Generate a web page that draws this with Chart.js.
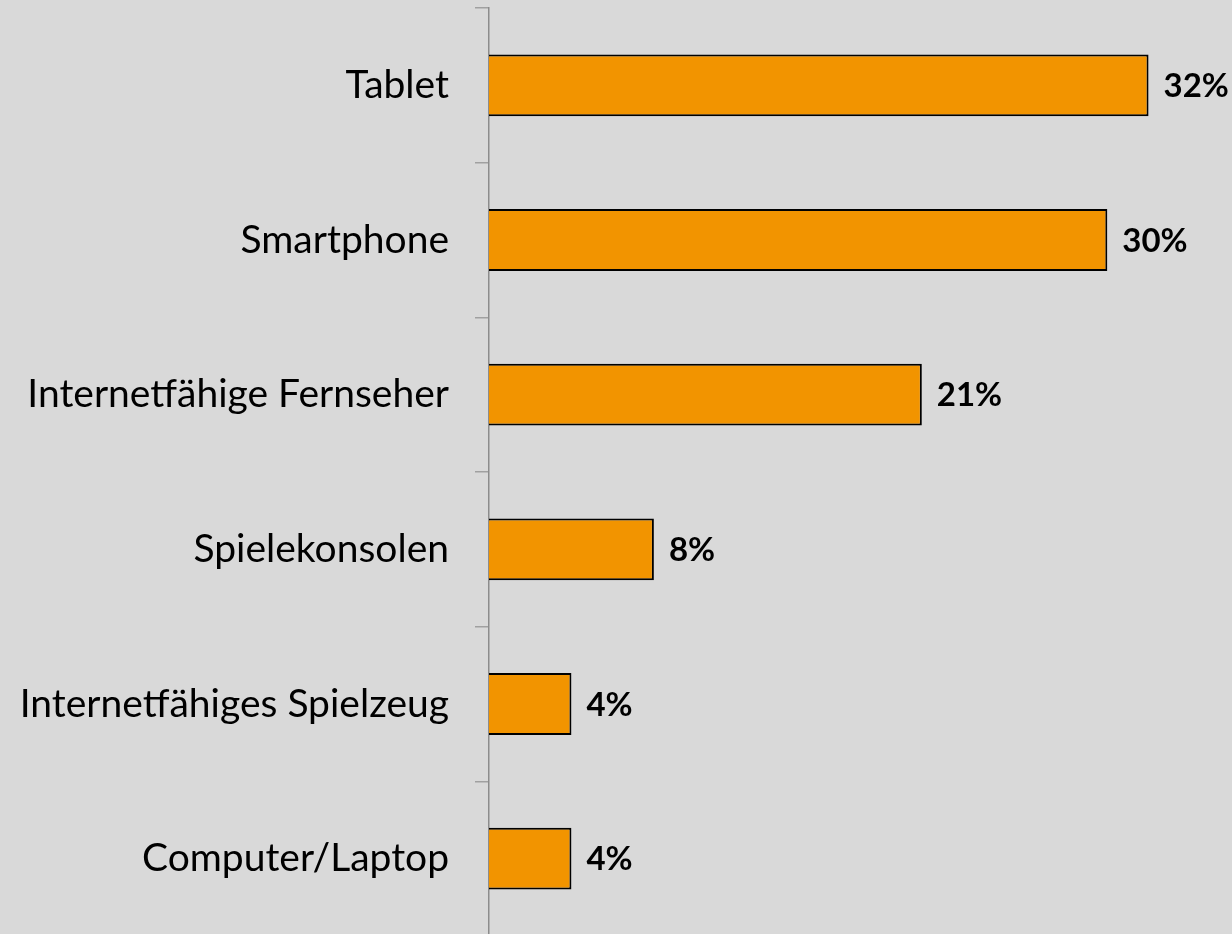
<!DOCTYPE html>
<html>
<head>
<meta charset="utf-8">
<script src="https://cdn.jsdelivr.net/npm/chart.js@4"></script>
<style>
    html, body { margin: 0; padding: 0; background: #d9d9d9; overflow: hidden; }
    #wrap { position: relative; width: 1232px; height: 942px; }
</style>
</head>
<body>
<div id="wrap"><canvas id="deviceChart"></canvas></div>
<script>
const categories = ['Tablet', 'Smartphone', 'Internetfähige Fernseher', 'Spielekonsolen', 'Internetfähiges Spielzeug', 'Computer/Laptop'];
const shares = [32, 30, 21, 8, 4, 4];

// Draw the "32%" style labels to the right of each bar
const valueLabels = {
    id: 'valueLabels',
    afterDatasetsDraw(chart) {
        const ctx = chart.ctx;
        const meta = chart.getDatasetMeta(0);
        ctx.save();
        ctx.font = 'bold 33px Lato';
        ctx.fillStyle = '#000';
        ctx.textAlign = 'left';
        ctx.textBaseline = 'middle';
        meta.data.forEach((bar, i) => {
            ctx.fillText(shares[i] + '%', bar.x + 15, bar.y + 1);
        });
        ctx.restore();
    }
};

document.addEventListener('DOMContentLoaded', function() {
    const ctx = document.getElementById('deviceChart');
    new Chart(ctx.getContext('2d'), {
        type: 'bar',
        data: {
            labels: categories,
            datasets: [{
                data: shares,
                backgroundColor: '#f29400',
                borderColor: '#000',
                borderWidth: 2,
                borderSkipped: 'left',
                barPercentage: 0.8,
                categoryPercentage: 0.5
            }]
        },
        options: {
            indexAxis: 'y',
            responsive: true,
            maintainAspectRatio: false,
            animation: false,
            layout: {
                padding: { top: 8, bottom: 6, left: 0, right: 1 }
            },
            plugins: {
                legend: { display: false },
                tooltip: { enabled: false }
            },
            scales: {
                x: {
                    display: false,
                    min: 0,
                    max: 36
                },
                y: {
                    afterFit: function(scale) {
                        // fixed axis position, no extra room for label overhang
                        scale.width = 489;
                        scale.paddingTop = 0;
                        scale.paddingBottom = 0;
                    },
                    border: {
                        display: true,
                        color: '#8c8c8c',
                        width: 1.5
                    },
                    grid: {
                        drawOnChartArea: false,
                        drawTicks: true,
                        tickLength: 14,
                        color: '#a0a0a0',
                        lineWidth: 1.5
                    },
                    ticks: {
                        color: '#000',
                        padding: 26,
                        font: { family: 'Lato', size: 39 }
                    }
                }
            }
        },
        plugins: [valueLabels]
    });
});
</script>
</body>
</html>
